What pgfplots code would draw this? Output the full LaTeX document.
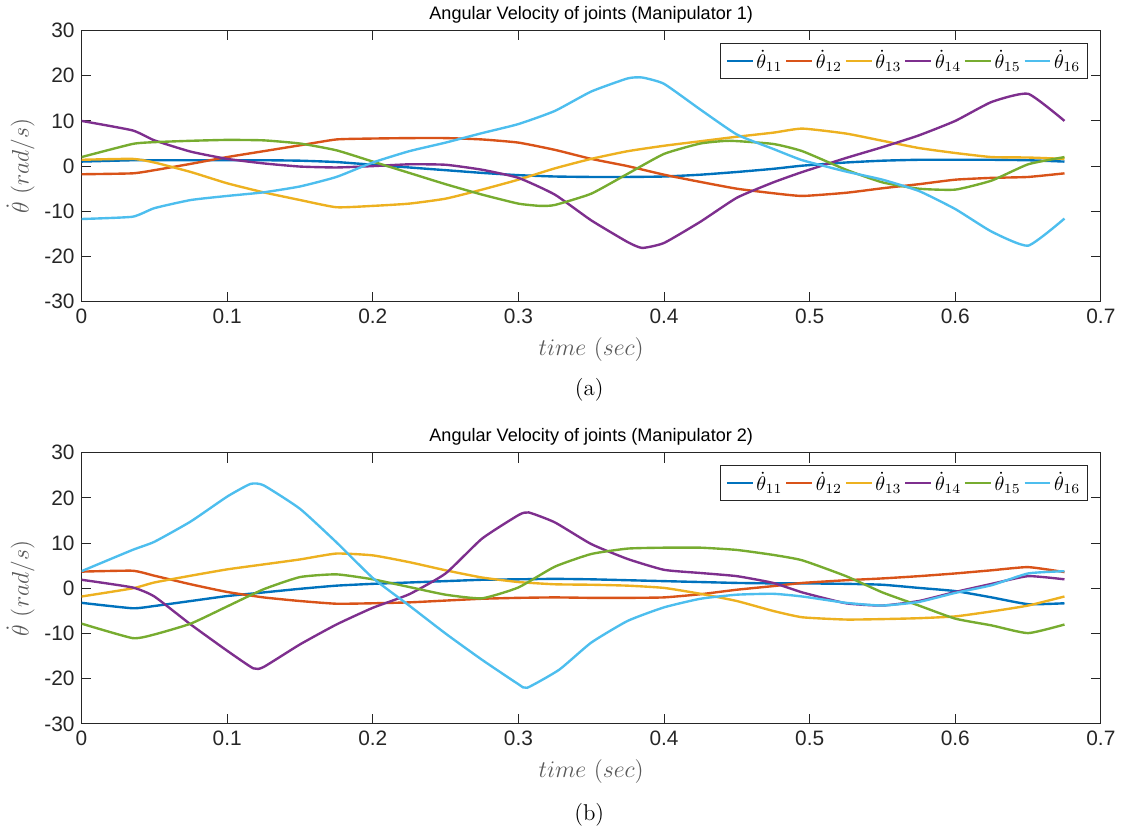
\documentclass[border=0pt]{standalone}
\usepackage{pgfplots}
\pgfplotsset{compat=1.18}
\usepackage{fontspec}
\newfontfamily\hel{Liberation Sans}
\definecolor{c1}{rgb}{0,0.447,0.741}
\definecolor{c2}{rgb}{0.85,0.325,0.098}
\definecolor{c3}{rgb}{0.929,0.694,0.125}
\definecolor{c4}{rgb}{0.494,0.184,0.556}
\definecolor{c5}{rgb}{0.466,0.674,0.188}
\definecolor{c6}{rgb}{0.301,0.745,0.933}
\definecolor{axc}{rgb}{0.15,0.15,0.15}
\pgfplotsset{
  mystyle/.style={
    scale only axis, width=513pt, height=136.5pt,
    xmin=0, xmax=0.7, ymin=-30, ymax=30,
    xtick={0,0.1,0.2,0.3,0.4,0.5,0.6,0.7},
    xticklabels={0,0.1,0.2,0.3,0.4,0.5,0.6,0.7},
    ytick={-30,-20,-10,0,10,20,30},
    yticklabels={-30,-20,-10,0,10,20,30},
    tick align=inside, xtick pos=both, ytick pos=both,
    major tick length=5pt,
    axis line style={axc, line width=0.5pt},
    tick style={axc, line width=0.5pt},
    tick label style={font=\hel\fontsize{10.5}{12}\selectfont, text=axc},
    title style={font=\hel\fontsize{9.1}{10}\selectfont, yshift=-6pt},
    xlabel={$time\ (sec)$},
    ylabel={$\dot{\theta}\ (rad/s)$},
    xlabel style={font=\fontsize{11.6}{13}\selectfont, text=black!65, yshift=0pt},
    ylabel style={font=\fontsize{11.6}{13}\selectfont, text=black!65, yshift=-2pt},
    legend columns=6,
    legend style={at={(rel axis cs:0.987,0.955)}, anchor=north east,
      draw=axc, fill=white, font=\fontsize{10}{12}\selectfont,
      inner sep=2.5pt, column sep=0.3pt, nodes={inner sep=1pt}},
    legend image code/.code={\draw[#1, line width=1.2pt] (0pt,0pt) -- (13pt,0pt);},
    every axis plot/.append style={line width=1.2pt, smooth, tension=0.3, no marks},
  }
}
\begin{document}
\begin{tikzpicture}
\begin{axis}[mystyle, title={Angular Velocity of joints (Manipulator 1)}]
\addplot[c1] coordinates {(0,1.0)(0.035,1.3)(0.05,1.3)(0.075,1.3)(0.1,1.3)(0.125,1.3)(0.15,1.2)(0.175,0.9)(0.2,0.3)(0.225,-0.3)(0.25,-0.9)(0.275,-1.5)(0.3,-2.0)(0.325,-2.3)(0.35,-2.4)(0.375,-2.4)(0.4,-2.3)(0.425,-1.9)(0.45,-1.3)(0.475,-0.6)(0.495,0.1)(0.525,0.8)(0.55,1.2)(0.575,1.4)(0.6,1.4)(0.625,1.4)(0.65,1.3)(0.675,1.0)};
\addplot[c2] coordinates {(0,-1.8)(0.035,-1.6)(0.05,-0.9)(0.075,0.5)(0.1,2.0)(0.125,3.3)(0.15,4.6)(0.175,5.9)(0.2,6.1)(0.225,6.2)(0.25,6.2)(0.275,5.9)(0.3,5.2)(0.325,3.6)(0.35,1.6)(0.375,0.0)(0.4,-1.9)(0.425,-3.5)(0.45,-5.0)(0.475,-6.0)(0.495,-6.6)(0.525,-5.9)(0.55,-4.9)(0.575,-4.0)(0.6,-3.0)(0.625,-2.6)(0.65,-2.4)(0.675,-1.6)};
\addplot[c3] coordinates {(0,1.4)(0.035,1.6)(0.05,0.8)(0.075,-1.3)(0.1,-3.8)(0.125,-5.8)(0.15,-7.5)(0.175,-9.1)(0.2,-8.8)(0.225,-8.3)(0.25,-7.2)(0.275,-5.2)(0.3,-3.0)(0.325,-0.5)(0.35,1.6)(0.375,3.3)(0.4,4.5)(0.425,5.5)(0.45,6.5)(0.475,7.4)(0.495,8.3)(0.525,7.2)(0.55,5.6)(0.575,4.0)(0.6,2.9)(0.625,2.0)(0.65,1.9)(0.675,1.6)};
\addplot[c4] coordinates {(0,10.0)(0.035,7.9)(0.05,5.7)(0.075,3.2)(0.1,1.6)(0.125,0.6)(0.15,-0.1)(0.175,-0.3)(0.2,0.0)(0.225,0.4)(0.25,0.3)(0.275,-0.8)(0.3,-2.6)(0.325,-6.3)(0.35,-12.0)(0.375,-16.8)(0.385,-18.1)(0.4,-17.0)(0.425,-12.3)(0.45,-7.0)(0.475,-3.6)(0.495,-1.3)(0.525,1.8)(0.55,4.2)(0.575,6.8)(0.6,10.0)(0.625,14.2)(0.65,16.0)(0.675,10.0)};
\addplot[c5] coordinates {(0,2.0)(0.035,4.9)(0.05,5.3)(0.075,5.6)(0.1,5.8)(0.125,5.7)(0.15,5.0)(0.175,3.5)(0.2,1.0)(0.225,-1.5)(0.25,-4.0)(0.275,-6.3)(0.3,-8.3)(0.315,-8.8)(0.325,-8.6)(0.35,-6.1)(0.375,-1.7)(0.4,2.7)(0.425,5.0)(0.445,5.6)(0.475,4.9)(0.495,3.3)(0.525,-0.8)(0.55,-3.6)(0.575,-5.0)(0.6,-5.2)(0.625,-3.2)(0.65,0.4)(0.675,2.0)};
\addplot[c6] coordinates {(0,-11.7)(0.035,-11.2)(0.05,-9.3)(0.075,-7.5)(0.1,-6.6)(0.125,-5.8)(0.15,-4.5)(0.175,-2.4)(0.2,0.8)(0.225,3.3)(0.25,5.2)(0.275,7.3)(0.3,9.3)(0.325,12.2)(0.35,16.5)(0.375,19.4)(0.385,19.6)(0.4,18.2)(0.425,12.5)(0.45,7.0)(0.475,3.8)(0.495,1.3)(0.525,-1.2)(0.55,-3.0)(0.575,-5.5)(0.6,-9.5)(0.625,-14.5)(0.65,-17.6)(0.675,-11.6)};
\legend{$\dot{\theta}_{11}$,$\dot{\theta}_{12}$,$\dot{\theta}_{13}$,$\dot{\theta}_{14}$,$\dot{\theta}_{15}$,$\dot{\theta}_{16}$}
\end{axis}
\node at (255.5pt,-44.5pt) {\fontsize{11.5}{13}\selectfont (a)};
\begin{axis}[mystyle, at={(0,-212.5pt)}, title={Angular Velocity of joints (Manipulator 2)}]
\addplot[c1] coordinates {(0,-3.2)(0.035,-4.4)(0.05,-3.9)(0.075,-2.8)(0.1,-1.7)(0.125,-0.9)(0.15,-0.1)(0.175,0.6)(0.2,1.0)(0.225,1.3)(0.25,1.6)(0.275,1.9)(0.3,2.0)(0.325,2.1)(0.35,2.0)(0.375,1.8)(0.4,1.6)(0.425,1.4)(0.45,1.2)(0.475,1.1)(0.495,1.1)(0.525,1.0)(0.55,0.8)(0.575,0.1)(0.6,-0.6)(0.625,-2.0)(0.65,-3.5)(0.675,-3.3)};
\addplot[c2] coordinates {(0,3.7)(0.035,3.9)(0.05,2.8)(0.075,0.9)(0.1,-0.8)(0.125,-2.0)(0.15,-2.8)(0.175,-3.4)(0.2,-3.3)(0.225,-3.1)(0.25,-2.7)(0.275,-2.3)(0.3,-2.1)(0.325,-2.0)(0.35,-2.1)(0.375,-2.1)(0.4,-2.0)(0.425,-1.3)(0.45,-0.3)(0.475,0.5)(0.495,1.2)(0.525,1.8)(0.55,2.2)(0.575,2.7)(0.6,3.3)(0.625,4.0)(0.65,4.7)(0.675,3.6)};
\addplot[c3] coordinates {(0,-1.8)(0.035,0.0)(0.05,1.3)(0.075,2.8)(0.1,4.2)(0.125,5.3)(0.15,6.4)(0.175,7.7)(0.2,7.3)(0.225,5.8)(0.25,4.0)(0.275,2.4)(0.3,1.4)(0.325,0.9)(0.35,0.8)(0.375,0.6)(0.4,0.1)(0.425,-1.2)(0.45,-2.8)(0.475,-5.0)(0.495,-6.4)(0.525,-6.9)(0.55,-6.8)(0.575,-6.6)(0.6,-6.2)(0.625,-5.1)(0.65,-3.8)(0.675,-1.8)};
\addplot[c4] coordinates {(0,1.9)(0.035,0.2)(0.05,-1.8)(0.075,-8.0)(0.1,-13.8)(0.118,-17.7)(0.125,-17.4)(0.15,-12.4)(0.175,-8.0)(0.2,-4.3)(0.225,-1.3)(0.25,3.3)(0.275,11.0)(0.3,16.2)(0.307,16.8)(0.325,14.6)(0.35,9.8)(0.375,6.5)(0.4,4.1)(0.425,3.4)(0.45,2.7)(0.475,1.2)(0.495,-0.9)(0.525,-3.3)(0.55,-3.8)(0.575,-2.8)(0.6,-0.8)(0.625,1.0)(0.65,2.7)(0.675,2.0)};
\addplot[c5] coordinates {(0,-7.8)(0.035,-11.0)(0.05,-10.2)(0.075,-7.8)(0.1,-4.0)(0.125,-0.2)(0.15,2.5)(0.175,3.1)(0.2,2.0)(0.225,0.3)(0.25,-1.4)(0.275,-2.2)(0.3,0.2)(0.325,4.8)(0.35,7.6)(0.375,8.8)(0.4,9.0)(0.425,9.0)(0.45,8.5)(0.475,7.4)(0.495,6.2)(0.525,2.7)(0.55,-0.9)(0.575,-3.8)(0.6,-6.7)(0.625,-8.2)(0.65,-9.9)(0.675,-8.0)};
\addplot[c6] coordinates {(0,3.8)(0.035,8.5)(0.05,10.3)(0.075,14.8)(0.1,20.3)(0.116,23.1)(0.125,22.8)(0.15,17.6)(0.175,10.2)(0.2,2.3)(0.225,-3.8)(0.25,-10.0)(0.275,-15.8)(0.3,-21.2)(0.306,-22.0)(0.328,-18.0)(0.35,-12.0)(0.375,-7.2)(0.4,-4.2)(0.425,-2.3)(0.45,-1.4)(0.475,-1.2)(0.495,-1.8)(0.525,-3.2)(0.55,-3.8)(0.575,-3.0)(0.6,-1.0)(0.625,0.7)(0.65,3.3)(0.675,3.8)};
\legend{$\dot{\theta}_{11}$,$\dot{\theta}_{12}$,$\dot{\theta}_{13}$,$\dot{\theta}_{14}$,$\dot{\theta}_{15}$,$\dot{\theta}_{16}$}
\end{axis}
\node at (255.5pt,-258pt) {\fontsize{11.5}{13}\selectfont (b)};
\end{tikzpicture}
\end{document}
